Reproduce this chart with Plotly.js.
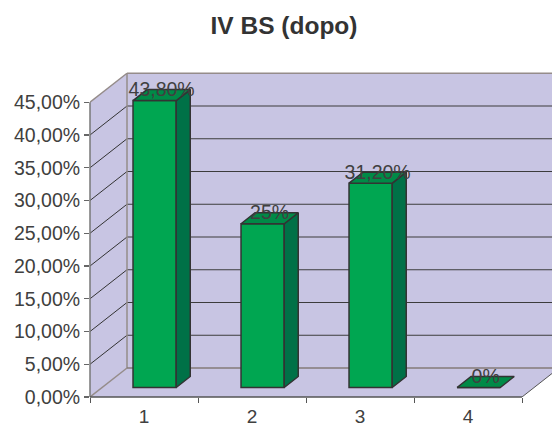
<!DOCTYPE html>
<html><head><meta charset="utf-8">
<script src="https://cdn.plot.ly/plotly-3.0.1.min.js"></script>
<style>html,body{margin:0;padding:0;background:#fff}#c{width:552px;height:427px}</style>
</head><body><div id="c"></div>
<script>
const categories = [1, 2, 3, 4];
const values = [43.8, 25, 31.2, 0];
const valueLabels = ['43,80%', '25%', '31,20%', '0%'];
const yTicks = [0, 5, 10, 15, 20, 25, 30, 35, 40, 45];
const yTickLabels = ['0,00%','5,00%','10,00%','15,00%','20,00%','25,00%','30,00%','35,00%','40,00%','45,00%'];
const titleText = 'IV BS (dopo)';

// Oblique projection: a point at depth d (0 front, 1 back) is shifted along the axes.
const depthX = 37 / 108, depthY = 29 / 6.55;
const barFront = 0.328, barBack = 0.707, barWidth = 0.4, barShift = -0.014;
const xMin = 0.5, xMax = 4.5, yMax = 45;
const fontFam = '"Liberation Sans", Arial, sans-serif';
const px = (x, d) => x + d * depthX;
const py = (y, d) => y + d * depthY;

const wall = '#C8C5E3', edge = '#958C8A', ink = '#333333';
const seg = (x0, y0, x1, y1, color, width) => ({type:'line', layer:'below', xref:'x', yref:'y', x0, y0, x1, y1, line:{color, width}});
const poly = (pts) => ({type:'path', layer:'below', xref:'x', yref:'y',
  path: pts.map((p, i) => (i ? 'L' : 'M') + p[0] + ',' + p[1]).join(' ') + ' Z', fillcolor: wall, line:{width:0}});

const shapes = [
  poly([[px(xMin,1),py(0,1)],[px(xMax,1),py(0,1)],[px(xMax,1),py(yMax,1)],[px(xMin,1),py(yMax,1)]]),
  poly([[px(xMin,0),py(0,0)],[px(xMin,1),py(0,1)],[px(xMin,1),py(yMax,1)],[px(xMin,0),py(yMax,0)]]),
  poly([[px(xMin,0),py(0,0)],[px(xMax,0),py(0,0)],[px(xMax,1),py(0,1)],[px(xMin,1),py(0,1)]])
];
yTicks.slice(1, -1).forEach(v => {
  shapes.push(seg(px(xMin,0), py(v,0), px(xMin,1), py(v,1), ink, 1));
  shapes.push(seg(px(xMin,1), py(v,1), px(xMax,1), py(v,1), '#3C3C3C', 1.2));
});
shapes.push(seg(px(xMin,0), py(yMax,0), px(xMin,1), py(yMax,1), edge, 1.5));
shapes.push(seg(px(xMin,1), py(yMax,1), px(xMax,1), py(yMax,1), edge, 1.5));
shapes.push(seg(px(xMin,1), py(0,1), px(xMin,1), py(yMax,1), edge, 1.5));
shapes.push(seg(px(xMin,0), py(0,0), px(xMin,1), py(0,1), edge, 1.5));
shapes.push(seg(px(xMin,1), py(0,1), px(xMax,1), py(0,1), '#857A78', 1.5));
shapes.push(seg(px(xMax,0), py(0,0), px(xMax,1), py(0,1), '#555555', 1));
// axis lines
shapes.push({type:'line', layer:'above', xref:'paper', yref:'y', x0:0, x1:0, y0:0, y1:yMax, line:{color:'#777777', width:1.5}});
shapes.push({type:'line', layer:'above', xref:'x', yref:'paper', x0:xMin, x1:xMax, y0:0, y1:0, line:{color:'#555555', width:1.5}});

const side = {x:[], y:[]}, top_ = {x:[], y:[]};
const addPoly = (t, pts) => { pts.forEach(p => { t.x.push(p[0]); t.y.push(p[1]); }); t.x.push(pts[0][0], null); t.y.push(pts[0][1], null); };
categories.forEach((c, i) => {
  const l = c + barShift - barWidth / 2, r = c + barShift + barWidth / 2, v = values[i];
  if (v > 0) addPoly(side, [[px(r,barFront),py(0,barFront)],[px(r,barBack),py(0,barBack)],[px(r,barBack),py(v,barBack)],[px(r,barFront),py(v,barFront)]]);
  addPoly(top_, [[px(l,barFront),py(v,barFront)],[px(r,barFront),py(v,barFront)],[px(r,barBack),py(v,barBack)],[px(l,barBack),py(v,barBack)]]);
});

const traces = [
  {type:'bar', x:categories.map(c => px(c + barShift, barFront)), y:values,
   base:values.map(() => py(0, barFront)), width:barWidth,
   marker:{color:'#00A651', line:{color:ink, width:1.5}}, hoverinfo:'skip'},
  {type:'scatter', mode:'lines', x:side.x, y:side.y, fill:'toself', fillcolor:'#007147',
   line:{color:ink, width:1.5}, hoverinfo:'skip'},
  {type:'scatter', mode:'lines', x:top_.x, y:top_.y, fill:'toself', fillcolor:'#008A47',
   line:{color:ink, width:1.5}, hoverinfo:'skip'},
  {type:'scatter', mode:'text',
   x:categories.map(c => px(c + barShift, (barFront + barBack) / 2)),
   y:values.map(v => py(v, (barFront + barBack) / 2) + 4 / 6.55),
   text:valueLabels, textposition:'middle center',
   textfont:{family:fontFam, size:19.5, color:'#404040'}, hoverinfo:'skip'}
];

const layout = {
  width:552, height:427, showlegend:false, paper_bgcolor:'#fff', plot_bgcolor:'rgba(0,0,0,0)',
  margin:{l:90, r:0, t:60, b:30, autoexpand:false},
  barmode:'overlay',
  title:{text:'<b>' + titleText + '</b>', x:284/552, xanchor:'center', xref:'container', y:1-25/427, yanchor:'middle', yref:'container',
         font:{family:fontFam, size:24.5, color:'#333333'}},
  xaxis:{range:[xMin, xMin + 462/108], tickmode:'array', tickvals:categories, ticktext:categories.map(String),
         ticks:'', showgrid:false, zeroline:false, showline:false, ticklabelstandoff:6,
         tickfont:{family:fontFam, size:19, color:'#404040'},
         minor:{tickmode:'array', tickvals:[0.5,1.5,2.5,3.5,4.5], ticks:'outside', ticklen:5, tickwidth:1, tickcolor:'#555555', showgrid:false}},
  yaxis:{range:[0, 337/6.55], tickmode:'array', tickvals:yTicks, ticktext:yTickLabels,
         ticks:'outside', ticklen:5, tickwidth:1.2, tickcolor:'#666666', showgrid:false, zeroline:false, showline:false,
         tickfont:{family:fontFam, size:19.5, color:'#404040'}},
  shapes
};
Plotly.newPlot('c', traces, layout, {displayModeBar:false, staticPlot:true});
</script></body></html>
